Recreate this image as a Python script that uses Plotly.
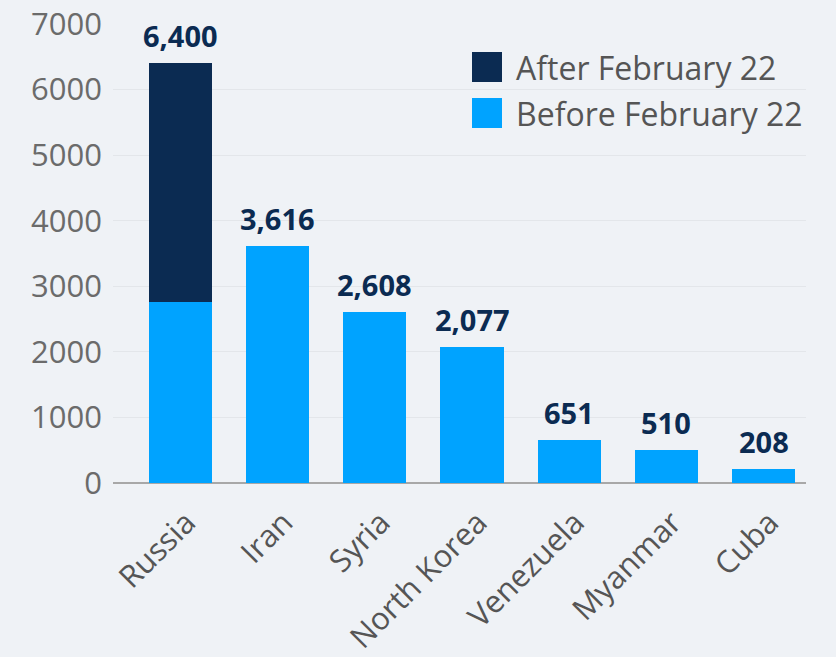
import plotly.graph_objects as go

countries = ['Russia', 'Iran', 'Syria', 'North Korea', 'Venezuela', 'Myanmar', 'Cuba']
before_feb22 = [2760, 3616, 2608, 2077, 651, 510, 208]
after_feb22 = [3640, 0, 0, 0, 0, 0, 0]
totals = [b + a for b, a in zip(before_feb22, after_feb22)]

light_blue = '#00a3ff'
navy = '#0b2b52'
bg = '#eff2f6'
font = 'Open Sans'

# plot area in pixels (reference)
L, R, T, B = 113, 806, 24, 483

fig = go.Figure()
fig.add_trace(go.Bar(x=countries, y=before_feb22, name='Before February 22',
                     marker_color=light_blue, marker_line_width=0, width=0.65))
fig.add_trace(go.Bar(x=countries, y=after_feb22, name='After February 22',
                     marker_color=navy, marker_line_width=0, width=0.65))

# totals above bars
for c, t in zip(countries, totals):
    fig.add_annotation(x=c, y=t, text=f"{t:,}", showarrow=False,
                       yanchor='bottom', yshift=6,
                       font=dict(family=font, size=29, color=navy, weight='bold'))

# legend drawn by hand so the swatches can be big squares
legend_items = [('After February 22', navy), ('Before February 22', light_blue)]
for i, (lbl, col) in enumerate(legend_items):
    top = 52 + i * 46
    fig.add_shape(type='rect', xref='paper', yref='paper',
                  x0=(472 - L) / (R - L), x1=(502 - L) / (R - L),
                  y0=(B - top - 30) / (B - T), y1=(B - top) / (B - T),
                  fillcolor=col, line_width=0)
    fig.add_annotation(xref='paper', yref='paper', x=(514 - L) / (R - L),
                       y=(B - top - 15) / (B - T), text=lbl, showarrow=False,
                       xanchor='left', yanchor='middle',
                       font=dict(family=font, size=32, color='#555555'))

fig.update_layout(
    barmode='stack',
    width=836, height=657,
    margin=dict(l=L, r=836 - R, t=T, b=657 - B, autoexpand=False),
    paper_bgcolor=bg, plot_bgcolor=bg,
    showlegend=False,
    font=dict(family=font, color='#666666'),
    xaxis=dict(range=[-0.695, 6.437], tickangle=-45, showgrid=False,
               tickfont=dict(size=31, color='#555555'), ticks='',
               ticklabelstandoff=14, ticklabelshift=6,
               showline=False, zeroline=False, automargin=False),
    yaxis=dict(range=[0, 7000], dtick=1000, showgrid=True, gridcolor='#e3e6ea',
               gridwidth=1, tickfont=dict(size=31, color='#6b6b6b'),
               ticks='', ticklabelstandoff=10, zeroline=True, zerolinecolor='#a8a8a8',
               zerolinewidth=1.5, showline=False, automargin=False),
)

fig.write_html("out.html", config={'displayModeBar': False},
               post_script="document.body.style.margin='0';document.body.style.background='#eff2f6';")
